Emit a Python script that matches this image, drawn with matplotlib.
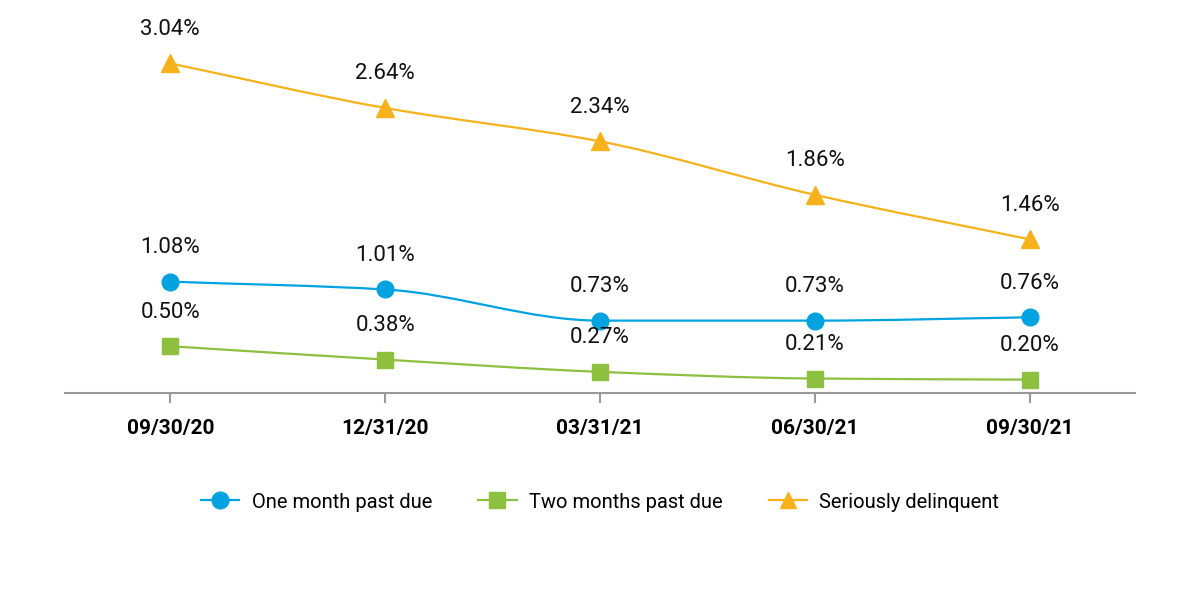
import numpy as np
import matplotlib
matplotlib.use("Agg")
import matplotlib.pyplot as plt
from matplotlib.path import Path
from matplotlib.patches import PathPatch
from matplotlib.lines import Line2D

# data
dates = ["09/30/20", "12/31/20", "03/31/21", "06/30/21", "09/30/21"]
one_month = [1.08, 1.01, 0.73, 0.73, 0.76]
two_months = [0.50, 0.38, 0.27, 0.21, 0.20]
serious = [3.04, 2.64, 2.34, 1.86, 1.46]

names = ["One month past due", "Two months past due", "Seriously delinquent"]
colors = ["#00A3E0", "#8DC03F", "#F7B21B"]
markers = ["o", "s", "^"]

plt.rcParams["font.family"] = ["Roboto", "DejaVu Sans"]


def smooth_path(x, y):
    # monotone cubic tangents, drawn as bezier segments
    x = np.asarray(x, float)
    y = np.asarray(y, float)
    d = np.diff(y) / np.diff(x)
    m = np.zeros_like(y)
    m[0], m[-1] = d[0], d[-1]
    for i in range(1, len(y) - 1):
        if d[i - 1] * d[i] <= 0:
            m[i] = 0.0
        else:
            m[i] = 2.0 / (1.0 / d[i - 1] + 1.0 / d[i])
    verts = [(x[0], y[0])]
    codes = [Path.MOVETO]
    for i in range(len(x) - 1):
        h = x[i + 1] - x[i]
        verts += [(x[i] + h / 3, y[i] + m[i] * h / 3),
                  (x[i + 1] - h / 3, y[i + 1] - m[i + 1] * h / 3),
                  (x[i + 1], y[i + 1])]
        codes += [Path.CURVE4] * 3
    return Path(verts, codes)


fig = plt.figure(figsize=(12, 6), dpi=100)
ax = fig.add_axes([65 / 1200, 207 / 600, 1070 / 1200, 373 / 600])

xs = np.arange(len(dates))
series = [one_month, two_months, serious]

for vals, c, mk in zip(series, colors, markers):
    ax.add_patch(PathPatch(smooth_path(xs, vals), fill=False, edgecolor=c,
                           lw=1.6, zorder=2))
    ms = 13 if mk == "^" else 12
    ax.plot(xs, vals, ls="none", marker=mk, color=c, ms=ms, zorder=3)
    for xi, v in zip(xs, vals):
        ax.annotate(f"{v:.2f}%", (xi, v), xytext=(0, 24.5), textcoords="offset points",
                    ha="center", va="center", fontsize=16, color="#111111", zorder=4)

ax.set_xlim(-0.49, 4.49)
ax.set_ylim(0.08, 3.43)
ax.set_xticks(xs)
ax.set_xticklabels(dates, fontsize=15, fontweight="bold")
ax.set_yticks([])
for s in ["top", "right", "left"]:
    ax.spines[s].set_visible(False)
ax.spines["bottom"].set_color("#999999")
ax.spines["bottom"].set_linewidth(1.5)
ax.tick_params(axis="x", length=7, width=1.5, color="#999999", pad=12)

handles = [Line2D([0], [0], color=c, marker=mk, ms=12, lw=1.6)
           for c, mk in zip(colors, markers)]
fig.legend(handles, names, loc="center", bbox_to_anchor=(0.5, 1 - 502 / 600),
           ncol=3, frameon=False, fontsize=14.5, handlelength=1.9,
           columnspacing=2.3, handletextpad=0.6)

fig.savefig("out.png", dpi=100)
